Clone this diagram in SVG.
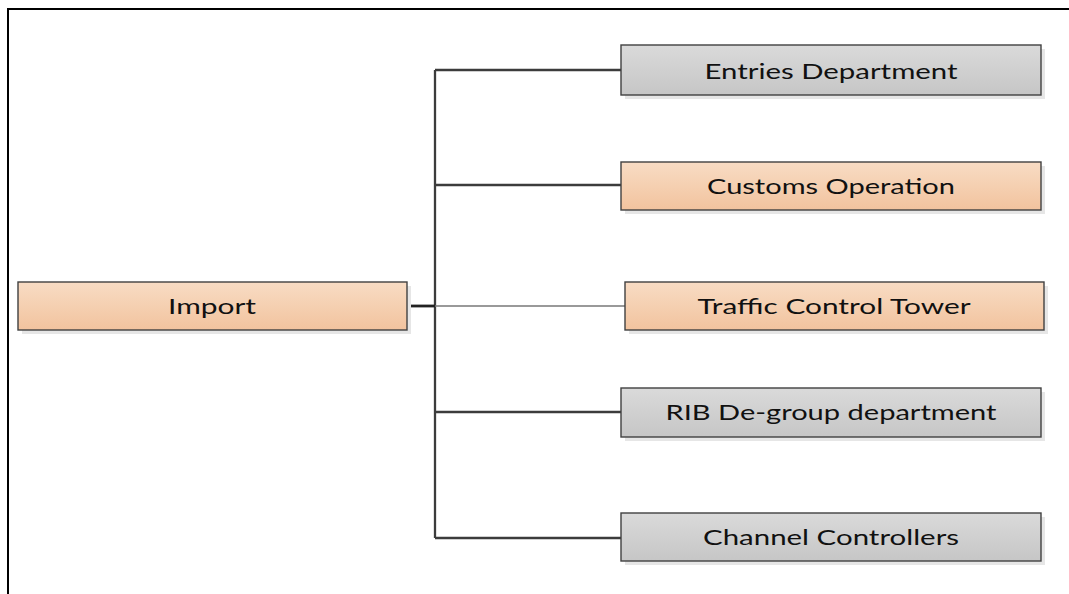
<svg xmlns="http://www.w3.org/2000/svg" width="1069" height="594" viewBox="0 0 1069 594">
  <style>
    .box { stroke: #404040; stroke-width: 1.4; }
    .gray { fill: url(#gGray); }
    .orange { fill: url(#gOrange); }
    .shadow { fill: #e6e6e6; }
    .label { font-family: Lato, "Open Sans", "Liberation Sans", sans-serif; font-size: 22px; fill: #111; text-anchor: middle; }
    .wire { stroke: #3c3c3c; stroke-width: 2.3; fill: none; }
  </style>
  <defs>
    <linearGradient id="gGray" x1="0" y1="0" x2="0" y2="1">
      <stop offset="0" stop-color="#dadada"/>
      <stop offset="1" stop-color="#c6c6c6"/>
    </linearGradient>
    <linearGradient id="gOrange" x1="0" y1="0" x2="0" y2="1">
      <stop offset="0" stop-color="#f8dcc4"/>
      <stop offset="1" stop-color="#f2c39e"/>
    </linearGradient>
  </defs>

  <rect width="1069" height="594" fill="#ffffff"/>

  <!-- outer frame, open to the right and bottom -->
  <path d="M8,594 V9 H1069" fill="none" stroke="#000" stroke-width="2"/>

  <!-- connectors -->
  <g id="connectors">
    <path class="wire" d="M435,70 V538"/>
    <path class="wire" d="M435,70 H621"/>
    <path class="wire" d="M435,185 H621"/>
    <path class="wire" d="M435,412 H621"/>
    <path class="wire" d="M435,538 H621"/>
    <path d="M407,306 H435" stroke="#222" stroke-width="2.8" fill="none"/>
    <path d="M435,306 H625" stroke="#777" stroke-width="1.5" fill="none"/>
  </g>

  <g id="node-import">
    <rect class="shadow" x="22" y="286" width="389" height="48"/>
    <rect class="box orange" x="18" y="282" width="389" height="48"/>
    <text class="label" x="212" y="314" textLength="88" lengthAdjust="spacingAndGlyphs">Import</text>
  </g>

  <g id="node-entries">
    <rect class="shadow" x="625" y="49" width="420" height="50"/>
    <rect class="box gray" x="621" y="45" width="420" height="50"/>
    <text class="label" x="831" y="79" textLength="253" lengthAdjust="spacingAndGlyphs">Entries Department</text>
  </g>

  <g id="node-customs">
    <rect class="shadow" x="625" y="166" width="420" height="48"/>
    <rect class="box orange" x="621" y="162" width="420" height="48"/>
    <text class="label" x="831" y="194" textLength="248" lengthAdjust="spacingAndGlyphs">Customs Operation</text>
  </g>

  <g id="node-traffic">
    <rect class="shadow" x="629" y="286" width="419" height="48"/>
    <rect class="box orange" x="625" y="282" width="419" height="48"/>
    <text class="label" x="834" y="314" textLength="273" lengthAdjust="spacingAndGlyphs">Traffic Control Tower</text>
  </g>

  <g id="node-rib">
    <rect class="shadow" x="625" y="392" width="420" height="49"/>
    <rect class="box gray" x="621" y="388" width="420" height="49"/>
    <text class="label" x="831" y="420" textLength="331" lengthAdjust="spacingAndGlyphs">RIB De-group department</text>
  </g>

  <g id="node-channel">
    <rect class="shadow" x="625" y="517" width="420" height="48"/>
    <rect class="box gray" x="621" y="513" width="420" height="48"/>
    <text class="label" x="831" y="545" textLength="256" lengthAdjust="spacingAndGlyphs">Channel Controllers</text>
  </g>
</svg>
